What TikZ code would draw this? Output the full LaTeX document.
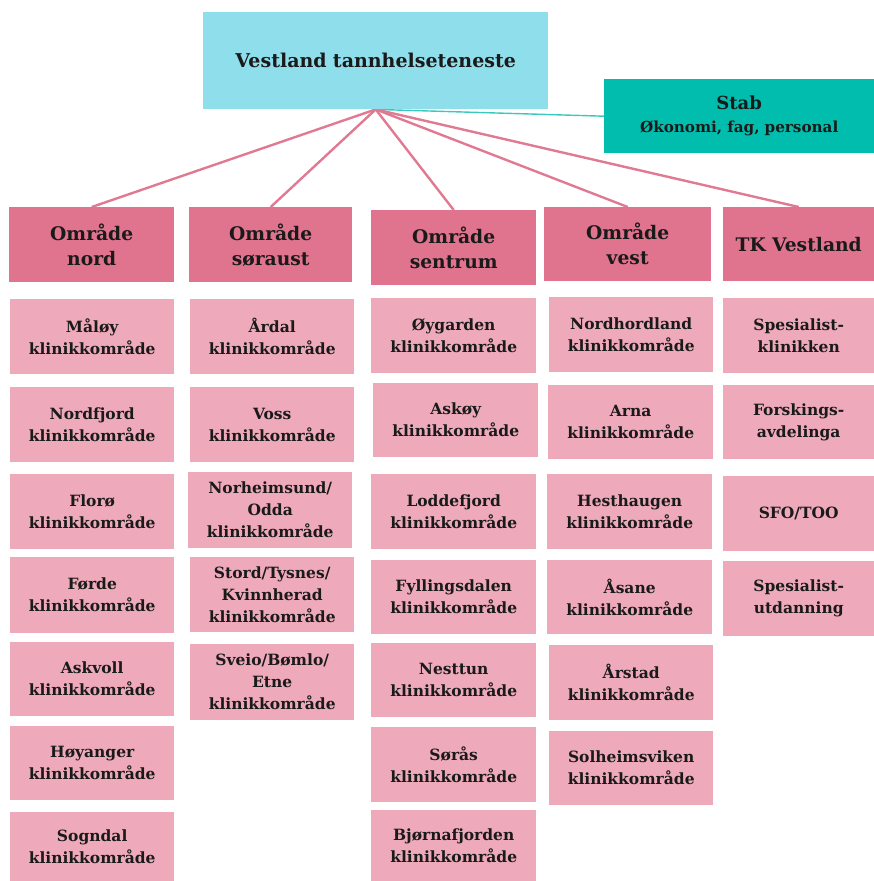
\documentclass[tikz,border=0pt]{standalone}
\usepackage{fontspec}
\setmainfont{DejaVu Serif}
\usetikzlibrary{backgrounds}
\definecolor{topc}{HTML}{8FDEEC}
\definecolor{stabc}{HTML}{00BDAE}
\definecolor{headc}{HTML}{E0738D}
\definecolor{subc}{HTML}{EEAABB}
\definecolor{linec}{HTML}{E07A92}
\definecolor{stabline}{HTML}{3CC8BC}
\definecolor{txt}{HTML}{1A1A1A}
\newcommand{\bx}[7]{\node[#1, minimum width=#4pt, minimum height=#5pt, text width=#4pt-6pt] (#6) at (#2,#3) {#7};}
\begin{document}
\begin{tikzpicture}[x=1pt,y=-1pt,
  base/.style={anchor=north west, inner sep=0pt, align=center, text=txt},
  topbox/.style={base, fill=topc, font=\bfseries\fontsize{19}{23}\selectfont},
  stabbox/.style={base, fill=stabc, font=\bfseries\fontsize{15.2}{23}\selectfont},
  headbox/.style={base, fill=headc, font=\bfseries\fontsize{18.7}{25}\selectfont},
  subbox/.style={base, fill=subc, font=\bfseries\fontsize{15.5}{22}\selectfont},
  link/.style={draw=linec, line width=2.4pt},
  stablink/.style={draw=stabline, line width=1.4pt}
]
\useasboundingbox (0,0) rectangle (874,881);
% top
\bx{topbox}{203}{12}{345}{97}{top}{Vestland tannhelseteneste}
\node[stabbox, minimum width=270pt, minimum height=74pt, text width=264pt] (stab) at (604,79)
  {{\fontsize{18}{23}\selectfont Stab}\\Økonomi, fag, personal};
% headers
\bx{headbox}{9}{207}{165}{75}{hnord}{Område\\nord}
\bx{headbox}{189}{207}{163}{75}{hsor}{Område\\søraust}
\bx{headbox}{371}{210}{165}{75}{hsen}{Område\\sentrum}
\bx{headbox}{544}{207}{167}{74}{hvest}{Område\\vest}
\bx{headbox}{723}{207}{151}{74}{htk}{TK Vestland}
% nord
\bx{subbox}{10}{299}{164}{75}{n1}{Måløy\\klinikkområde}
\bx{subbox}{10}{387}{164}{75}{n2}{Nordfjord\\klinikkområde}
\bx{subbox}{10}{474}{164}{75}{n3}{Florø\\klinikkområde}
\bx{subbox}{10}{557}{164}{76}{n4}{Førde\\klinikkområde}
\bx{subbox}{10}{642}{164}{74}{n5}{Askvoll\\klinikkområde}
\bx{subbox}{10}{726}{164}{74}{n6}{Høyanger\\klinikkområde}
\bx{subbox}{10}{812}{164}{69}{n7}{Sogndal\\klinikkområde}
% søraust
\bx{subbox}{190}{299}{164}{75}{s1}{Årdal\\klinikkområde}
\bx{subbox}{190}{387}{164}{75}{s2}{Voss\\klinikkområde}
\bx{subbox}{188}{472}{164}{76}{s3}{Norheimsund/\\Odda\\klinikkområde}
\bx{subbox}{190}{557}{164}{75}{s4}{Stord/Tysnes/\\Kvinnherad\\klinikkområde}
\bx{subbox}{190}{644}{164}{76}{s5}{Sveio/Bømlo/\\Etne\\klinikkområde}
% sentrum
\bx{subbox}{371}{298}{165}{75}{c1}{Øygarden\\klinikkområde}
\bx{subbox}{373}{383}{165}{74}{c2}{Askøy\\klinikkområde}
\bx{subbox}{371}{474}{165}{75}{c3}{Loddefjord\\klinikkområde}
\bx{subbox}{371}{560}{165}{74}{c4}{Fyllingsdalen\\klinikkområde}
\bx{subbox}{371}{643}{165}{74}{c5}{Nesttun\\klinikkområde}
\bx{subbox}{371}{727}{165}{75}{c6}{Sørås\\klinikkområde}
\bx{subbox}{371}{810}{165}{71}{c7}{Bjørnafjorden\\klinikkområde}
% vest
\bx{subbox}{549}{297}{164}{75}{v1}{Nordhordland\\klinikkområde}
\bx{subbox}{548}{385}{165}{74}{v2}{Arna\\klinikkområde}
\bx{subbox}{547}{474}{165}{75}{v3}{Hesthaugen\\klinikkområde}
\bx{subbox}{547}{560}{165}{74}{v4}{Åsane\\klinikkområde}
\bx{subbox}{549}{645}{164}{75}{v5}{Årstad\\klinikkområde}
\bx{subbox}{549}{731}{164}{74}{v6}{Solheimsviken\\klinikkområde}
% TK
\bx{subbox}{723}{298}{151}{75}{t1}{Spesialist-\\klinikken}
\bx{subbox}{723}{385}{151}{74}{t2}{Forskings-\\avdelinga}
\bx{subbox}{723}{476}{151}{75}{t3}{SFO/TOO}
\bx{subbox}{723}{561}{151}{75}{t4}{Spesialist-\\utdanning}
% connectors
\begin{scope}[on background layer]
\draw[stablink] (top.south) -- (stab.west);
\draw[link] (top.south) -- (hnord.north);
\draw[link] (top.south) -- (hsor.north);
\draw[link] (top.south) -- (hsen.north);
\draw[link] (top.south) -- (hvest.north);
\draw[link] (top.south) -- (htk.north);
\end{scope}
\end{tikzpicture}
\end{document}
